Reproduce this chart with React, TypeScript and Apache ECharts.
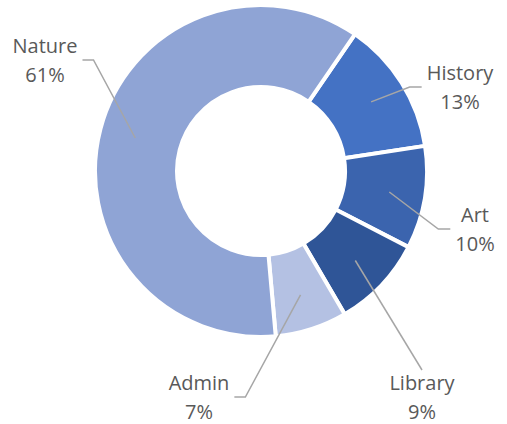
import React, { useEffect, useRef } from 'react';
import * as echarts from 'echarts';

// ---- data ----
const categories = ['History', 'Art', 'Library', 'Admin', 'Nature'];
const shares = [13, 10, 9, 7, 61];

// ---- styles / layout ----
const colors = ['#4472C4', '#3B64AE', '#2F5597', '#B4C1E3', '#8FA4D5'];
const labelCentres: number[][] = [[460, 87], [475, 229], [422, 397], [199, 397], [45, 60]];
const attachSide = ['left', 'left', 'top', 'right', 'right'];
const CENTER = [261, 171];
const R_IN = 84;
const R_OUT = 166;
const START_ANGLE = 55.5;

export default function App() {
  const ref = useRef<HTMLDivElement>(null);
  useEffect(() => {
    if (!ref.current) return;
    const chart = echarts.init(ref.current, undefined, { renderer: 'svg' });
    const total = shares.reduce((a, b) => a + b, 0);
    const cum: number[] = [];
    let acc = 0;
    shares.forEach((v) => { cum.push(acc); acc += v; });

    const base = {
      type: 'pie',
      center: CENTER,
      radius: [R_IN, R_OUT],
      startAngle: START_ANGLE,
      clockwise: true,
      avoidLabelOverlap: false,
      percentPrecision: 0,
      emphasis: { disabled: true },
      silent: true,
    };

    chart.setOption({
      animation: false,
      backgroundColor: '#ffffff',
      series: [
        {
          ...base,
          z: 2,
          data: categories.map((c, i) => ({ name: c, value: shares[i], itemStyle: { color: colors[i] } })),
          itemStyle: { borderColor: '#ffffff', borderWidth: 4 },
          label: { show: false },
          labelLine: { show: false },
        },
        {
          ...base,
          z: 5,
          data: categories.map((c, i) => ({ name: c, value: shares[i] })),
          itemStyle: { color: 'rgba(0,0,0,0)', borderWidth: 0 },
          label: {
            show: true,
            position: 'outside',
            formatter: '{b}\n{d}%',
            fontFamily: '"Open Sans", sans-serif',
            fontSize: 20,
            lineHeight: 29,
            color: '#595959',
          },
          labelLine: {
            show: true,
            lineStyle: { color: '#A6A6A6', width: 1.5 },
          },
          labelLayout: (params: any) => {
            const i = params.dataIndex;
            const w = params.labelRect.width;
            const h = params.labelRect.height;
            const [lx, ly] = labelCentres[i];
            const mid = (START_ANGLE - ((cum[i] + shares[i] / 2) / total) * 360) * Math.PI / 180;
            const r = (R_IN + R_OUT) / 2 + 5;
            const start = [CENTER[0] + r * Math.cos(mid), CENTER[1] - r * Math.sin(mid)];
            let end: number[];
            let bend: number[];
            const side = attachSide[i];
            if (side === 'left') {
              end = [lx - w / 2 - 5, ly];
              bend = [end[0] - 12, ly];
            } else if (side === 'right') {
              end = [lx + w / 2 + 5, ly];
              bend = [end[0] + 11, ly];
            } else {
              end = [lx, ly - h / 2 + 2];
              bend = end;
            }
            return {
              x: lx,
              y: ly,
              align: 'center',
              verticalAlign: 'middle',
              labelLinePoints: [start, bend, end],
            };
          },
        },
      ],
    });
    return () => chart.dispose();
  }, []);
  return (
    <div
      ref={ref}
      style={{ position: 'fixed', left: 0, top: 0, width: 507, height: 424, background: '#fff' }}
    />
  );
}
